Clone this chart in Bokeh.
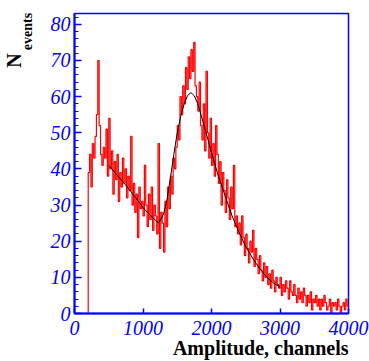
from bokeh.plotting import figure
from bokeh.models import SingleIntervalTicker, FixedTicker, Range1d, LinearAxis, Title
from bokeh.embed import file_html
from bokeh.resources import INLINE

# ---- data ----
bin_start = 200
bin_width = 20
counts = [
    39, 44, 35, 47, 43,
    49, 55, 70, 52, 44,
    41, 46, 43, 51, 38,
    54, 40, 45, 33, 42,
    37, 44, 31, 39, 35,
    43, 36, 40, 32, 38,
    34, 49, 30, 36, 28,
    33, 21, 35, 29, 31,
    27, 41, 30, 24, 33,
    26, 35, 23, 30, 27,
    22, 47, 18, 28, 25,
    17, 31, 24, 35, 29,
    38, 33, 43, 40, 46,
    52, 48, 60, 55, 63,
    58, 68, 62, 71, 65,
    73, 67, 75, 63, 60,
    56, 64, 52, 48, 58,
    45, 67, 50, 43, 54,
    41, 47, 38, 52, 44,
    36, 42, 30, 39, 34,
    28, 37, 32, 26, 35,
    29, 41, 24, 27, 22,
    25, 19, 27, 21, 16,
    22, 18, 14, 20, 17,
    23, 13, 18, 15, 11,
    16, 12, 9, 14, 10,
    13, 8, 11, 7, 12,
    9, 6, 10, 8, 7,
    10, 5, 8, 6, 9,
    7, 4, 9, 6, 5,
    8, 5, 3, 7, 4,
    6, 3, 7, 5, 2,
    5, 3, 6, 1, 4,
    3, 5, 2, 4, 1,
    4, 2, 5, 3, 1,
    2, 4, 0, 3, 2,
    3, 1, 4, 2, 0,
    2, 3, 1, 4, 2,
]
fit_x = [500, 600, 700, 800, 900, 1000, 1100, 1200, 1230,
         1300, 1350, 1400, 1450, 1500, 1550, 1600, 1650, 1700, 1750,
         1800, 1900, 2000, 2100, 2200, 2300, 2400, 2500, 2600, 2700,
         2800, 2900, 3000]
fit_y = [40.9, 38.8, 36.6, 34.3, 31.9, 29.3, 27.3, 25.5, 25.1,
         27.5, 31.5, 37.5, 44.0, 50.0, 54.5, 58.0, 60.3, 61.1, 60.2,
         58.0, 51.5, 44.5, 38.0, 32.5, 27.0, 22.5, 18.5, 15.3, 12.5,
         10.2, 8.5, 7.3]
x_ticks = [0, 1000, 2000, 3000, 4000]
y_ticks = [0, 10, 20, 30, 40, 50, 60, 70, 80]
x_title = "Amplitude, channels"
y_title_main = "N"
y_title_sub = "events"
# where the y title parts sit along the y axis (axis units)
y_main_at = 70
y_sub_at = 78

SERIF = "Liberation Serif"

p = figure(width=369, height=361, output_backend="svg",
           toolbar_location=None,
           x_range=Range1d(0, 4000), y_range=Range1d(0, 83),
           min_border_left=74, min_border_right=21, min_border_top=13,
           min_border_bottom=48)
p.background_fill_color = "white"
p.border_fill_color = "white"
p.grid.visible = False
p.outline_line_color = "blue"
p.outline_line_width = 1.5

edges = [bin_start + bin_width * i for i in range(len(counts) + 1)]
sx = [edges[0]] + edges
sy = [0] + counts + [counts[-1]]
p.step(sx, sy, mode="after", line_color="red", line_width=1.2)
p.line(fit_x, fit_y, line_color="black", line_width=1.0)

for ax in (p.xaxis[0], p.yaxis[0]):
    ax.axis_line_color = "blue"
    ax.axis_line_width = 2
    ax.major_tick_line_color = "blue"
    ax.minor_tick_line_color = "blue"
    ax.major_tick_line_width = 1.5
    ax.minor_tick_line_width = 1.2
    ax.major_tick_out = 0
    ax.minor_tick_out = 0
    ax.major_label_text_color = "blue"
    ax.major_label_text_font = SERIF
    ax.major_label_text_font_style = "italic"
    ax.major_label_text_font_size = "20px"

p.xaxis.ticker = FixedTicker(ticks=x_ticks)
p.xaxis.major_tick_in = 5
p.xaxis.minor_tick_line_color = None
p.xaxis.major_label_standoff = 7

p.yaxis.ticker = SingleIntervalTicker(interval=10, num_minor_ticks=5)
p.yaxis.major_tick_in = 7
p.yaxis.minor_tick_in = 4
p.yaxis.major_label_standoff = 4


def title_axis(at, text, size, standoff):
    a = LinearAxis(ticker=FixedTicker(ticks=[at]),
                   major_label_overrides={at: text})
    a.axis_line_color = None
    a.major_tick_line_color = None
    a.minor_tick_line_color = None
    a.major_tick_in = 0
    a.major_tick_out = 0
    a.major_label_standoff = standoff
    a.major_label_text_font = SERIF
    a.major_label_text_font_style = "bold"
    a.major_label_text_font_size = size
    a.major_label_text_color = "black"
    a.major_label_orientation = "vertical"
    return a


p.add_layout(title_axis(y_sub_at, y_title_sub, "14px", 12), "left")
p.add_layout(title_axis(y_main_at, y_title_main, "20px", -8), "left")

p.add_layout(Title(text=x_title, align="right", vertical_align="bottom",
                   standoff=-6, offset=0, text_font=SERIF,
                   text_font_style="bold", text_font_size="20px",
                   text_color="black"), "below")

open("out.html", "w").write(file_html(p, INLINE))
